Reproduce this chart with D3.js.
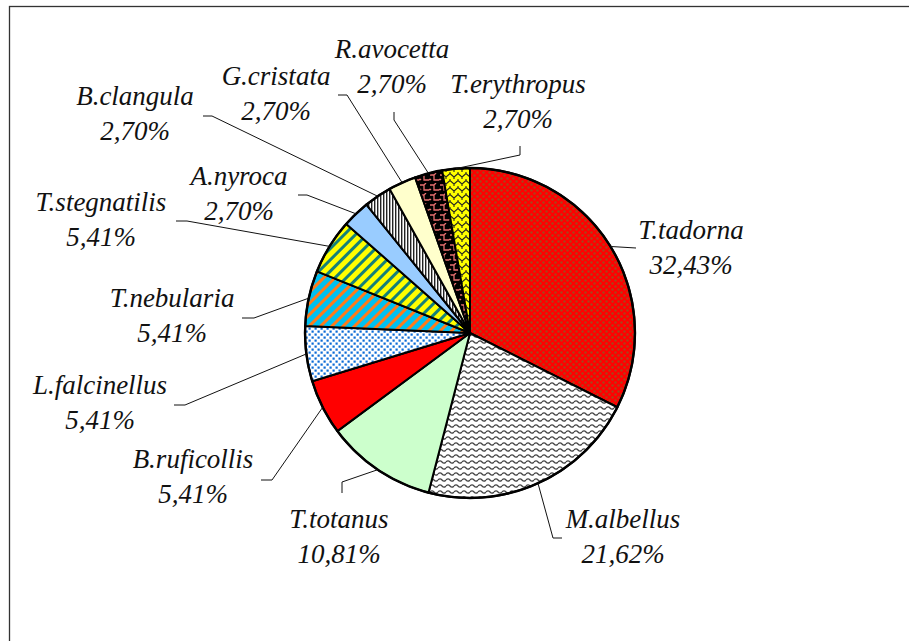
<!DOCTYPE html>
<html>
<head>
<meta charset="utf-8">
<script src="https://cdn.jsdelivr.net/npm/d3@7"></script>
<style>
  html, body { margin: 0; padding: 0; background: #fff; }
  svg { display: block; }
</style>
</head>
<body>
<div id="chart"></div>
<script>
// Waterbird species share (%), clockwise from 12 o'clock
const species = ["T.tadorna", "M.albellus", "T.totanus", "B.ruficollis", "L.falcinellus",
                 "T.nebularia", "T.stegnatilis", "A.nyroca", "B.clangula", "G.cristata",
                 "R.avocetta", "T.erythropus"];
const shares  = [32.43, 21.62, 10.81, 5.41, 5.41, 5.41, 5.41, 2.70, 2.70, 2.70, 2.70, 2.70];
const pctText = ["32,43%", "21,62%", "10,81%", "5,41%", "5,41%", "5,41%", "5,41%",
                 "2,70%", "2,70%", "2,70%", "2,70%", "2,70%"];

// fill per slice (pattern ids or flat colours)
const fills = ["url(#p-tadorna)", "url(#p-albellus)", "#CCFFCC", "#FF0000", "url(#p-falcinellus)",
               "url(#p-nebularia)", "url(#p-stegnatilis)", "#99CCFF", "url(#p-clangula)", "#FFFFCC",
               "url(#p-avocetta)", "url(#p-erythropus)"];

// label layout (text centre / leader elbow / leader end), hand placed like the original
const labelAt = [[691, 239], [623, 528], [339, 528], [193, 468], [100, 394], [172, 307],
                 [101, 211], [239, 185], [135, 105], [276, 85], [392, 58], [518, 93]];
const elbowAt = [[636, 248], [553, 538], [342, 482], [272, 480], [185, 405], [254, 318],
                 [187, 221], [307, 195], [212, 116], [347, 95], [394, 120], [520, 155]];
const endAt   = [[636, 248], [562, 538], [342, 493], [261, 480], [174, 405], [242, 318],
                 [176, 221], [298, 195], [203, 116], [338, 95], [394, 112], [520, 146]];

const W = 909, H = 641;
const cx = 470, cy = 333, R = 165;

const svg = d3.select("#chart").append("svg")
  .attr("width", W).attr("height", H);

// chart frame (right/bottom edges run off the page)
svg.append("rect")
  .attr("x", 9.5).attr("y", 6.5)
  .attr("width", W + 20).attr("height", H + 20)
  .attr("fill", "#fff").attr("stroke", "#333").attr("stroke-width", 1.3);

const defs = svg.append("defs");

function pattern(id, w, h, bg) {
  const p = defs.append("pattern").attr("id", id)
    .attr("patternUnits", "userSpaceOnUse").attr("width", w).attr("height", h);
  p.append("rect").attr("width", w).attr("height", h).attr("fill", bg);
  return p;
}

// red with brown dots
let p = pattern("p-tadorna", 6, 6, "#FF0000");
p.append("circle").attr("cx", 1.5).attr("cy", 1.5).attr("r", 1.2).attr("fill", "#A8441A");
p.append("circle").attr("cx", 4.5).attr("cy", 4.5).attr("r", 1.2).attr("fill", "#A8441A");

// white with grey waves
p = pattern("p-albellus", 8, 6, "#fff");
p.append("path").attr("d", "M0 3 Q2 0.8 4 3 T8 3").attr("fill", "none")
  .attr("stroke", "#444").attr("stroke-width", 1.3);

// white with blue squares
p = pattern("p-falcinellus", 6, 6, "#fff");
p.append("rect").attr("x", 0.5).attr("y", 0.5).attr("width", 2.2).attr("height", 2.2).attr("fill", "#0A6AD6");
p.append("rect").attr("x", 3.5).attr("y", 3.5).attr("width", 2.2).attr("height", 2.2).attr("fill", "#0A6AD6");

// cyan with orange diagonal stripes
p = defs.append("pattern").attr("id", "p-nebularia")
  .attr("patternUnits", "userSpaceOnUse").attr("width", 8).attr("height", 8)
  .attr("patternTransform", "rotate(45)");
p.append("rect").attr("width", 8).attr("height", 8).attr("fill", "#00C0F0");
p.append("rect").attr("width", 3).attr("height", 8).attr("fill", "#FF7A1A");

// yellow with teal diagonal stripes
p = defs.append("pattern").attr("id", "p-stegnatilis")
  .attr("patternUnits", "userSpaceOnUse").attr("width", 8).attr("height", 8)
  .attr("patternTransform", "rotate(45)");
p.append("rect").attr("width", 8).attr("height", 8).attr("fill", "#FFFF00");
p.append("rect").attr("width", 3).attr("height", 8).attr("fill", "#14807A");

// white with narrow vertical black lines
p = pattern("p-clangula", 3, 3, "#fff");
p.append("rect").attr("x", 0).attr("width", 1.4).attr("height", 3).attr("fill", "#222");

// black with salmon zigzag steps
p = pattern("p-avocetta", 10, 10, "#000");
p.append("path").attr("d", "M0 2 H4 V7 H9 M4 2 L6 0 M9 7 L10 6 M0 7 L1 6")
  .attr("fill", "none").attr("stroke", "#E87070").attr("stroke-width", 1.3);

// yellow with black scales
p = pattern("p-erythropus", 8, 7, "#FFFF00");
p.append("path").attr("d", "M0 5 L4 1.5 L8 5 M0 5 V7 M8 5 V7 M4 1.5 V-1")
  .attr("fill", "none").attr("stroke", "#222").attr("stroke-width", 1.1);

const pie = d3.pie().sort(null).value(d => d)
  .startAngle(0).endAngle(2 * Math.PI);
const arcs = pie(shares);
const arc = d3.arc().innerRadius(0).outerRadius(R);

const g = svg.append("g").attr("transform", `translate(${cx},${cy})`);

g.selectAll("path.slice")
  .data(arcs)
  .join("path")
  .attr("class", "slice")
  .attr("d", arc)
  .attr("fill", (d, i) => fills[i])
  .attr("stroke", "#000")
  .attr("stroke-width", 2)
  .attr("stroke-linejoin", "round");

g.append("circle").attr("r", R).attr("fill", "none")
  .attr("stroke", "#000").attr("stroke-width", 2.4);

// leader lines start on the rim at each slice's mid angle
const rim = d3.arc().innerRadius(R).outerRadius(R);
svg.append("g").selectAll("polyline")
  .data(arcs)
  .join("polyline")
  .attr("points", (d, i) => {
    const c = rim.centroid(d);
    return [[cx + c[0], cy + c[1]], elbowAt[i], endAt[i]].map(q => q.join(",")).join(" ");
  })
  .attr("fill", "none")
  .attr("stroke", "#111")
  .attr("stroke-width", 1);

const lab = svg.append("g")
  .selectAll("g")
  .data(arcs)
  .join("g")
  .attr("transform", (d, i) => `translate(${labelAt[i][0]},${labelAt[i][1]})`);

function styleText(t) {
  t.attr("text-anchor", "middle")
    .attr("font-family", "Liberation Serif")
    .attr("font-style", "italic")
    .attr("font-size", 27)
    .attr("fill", "#111");
}

lab.append("text").call(styleText)
  .text((d, i) => species[i]);
lab.append("text").call(styleText)
  .attr("y", 34.5)
  .text((d, i) => pctText[i]);
</script>
</body>
</html>
